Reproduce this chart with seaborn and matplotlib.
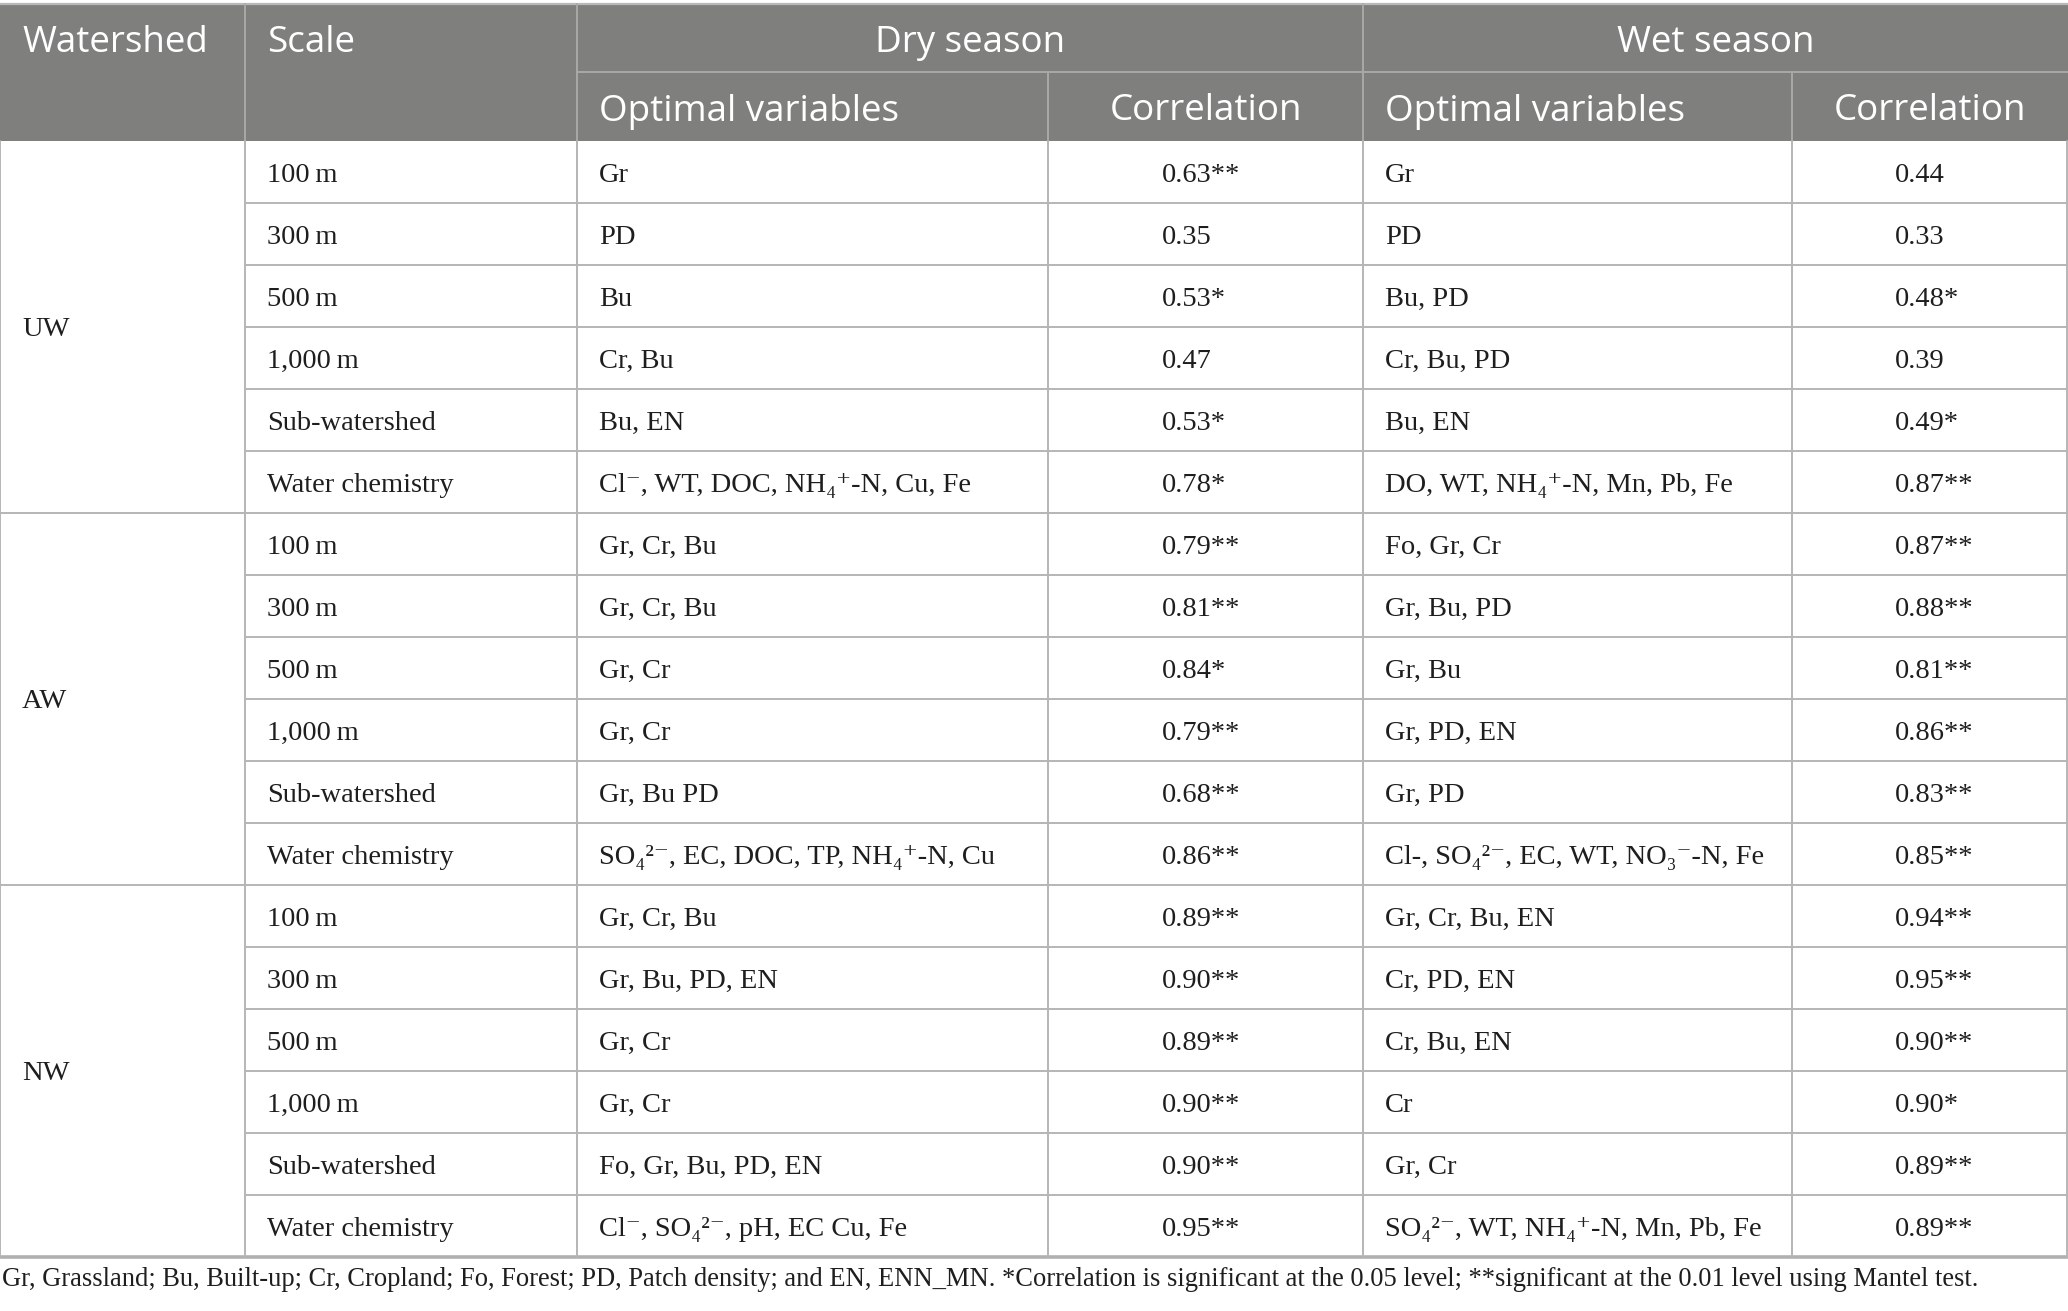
import matplotlib
matplotlib.use("Agg")
import matplotlib.pyplot as plt
import seaborn as sns

# ---------------- data ----------------
watersheds = ["UW", "AW", "NW"]
scales = ["100\u2009m", "300\u2009m", "500\u2009m", "1,000\u2009m", "Sub-watershed", "Water chemistry"]

dry_vars = [
    "Gr", "PD", "Bu", "Cr, Bu", "Bu, EN", "Cl\u207b, WT, DOC, NH\u2084\u207a-N, Cu, Fe",
    "Gr, Cr, Bu", "Gr, Cr, Bu", "Gr, Cr", "Gr, Cr", "Gr, Bu PD",
    "SO\u2084\u00b2\u207b, EC, DOC, TP, NH\u2084\u207a-N, Cu",
    "Gr, Cr, Bu", "Gr, Bu, PD, EN", "Gr, Cr", "Gr, Cr", "Fo, Gr, Bu, PD, EN",
    "Cl\u207b, SO\u2084\u00b2\u207b, pH, EC Cu, Fe",
]
dry_corr = [0.63, 0.35, 0.53, 0.47, 0.53, 0.78,
            0.79, 0.81, 0.84, 0.79, 0.68, 0.86,
            0.89, 0.90, 0.89, 0.90, 0.90, 0.95]
dry_sig = ["**", "", "*", "", "*", "*",
           "**", "**", "*", "**", "**", "**",
           "**", "**", "**", "**", "**", "**"]

wet_vars = [
    "Gr", "PD", "Bu, PD", "Cr, Bu, PD", "Bu, EN", "DO, WT, NH\u2084\u207a-N, Mn, Pb, Fe",
    "Fo, Gr, Cr", "Gr, Bu, PD", "Gr, Bu", "Gr, PD, EN", "Gr, PD",
    "Cl-, SO\u2084\u00b2\u207b, EC, WT, NO\u2083\u207b-N, Fe",
    "Gr, Cr, Bu, EN", "Cr, PD, EN", "Cr, Bu, EN", "Cr", "Gr, Cr",
    "SO\u2084\u00b2\u207b, WT, NH\u2084\u207a-N, Mn, Pb, Fe",
]
wet_corr = [0.44, 0.33, 0.48, 0.39, 0.49, 0.87,
            0.87, 0.88, 0.81, 0.86, 0.83, 0.85,
            0.94, 0.95, 0.90, 0.90, 0.89, 0.89]
wet_sig = ["", "", "*", "", "*", "**",
           "**", "**", "**", "**", "**", "**",
           "**", "**", "**", "*", "**", "**"]

col_headers = ["Watershed", "Scale"]
season_headers = ["Dry season", "Wet season"]
sub_headers = ["Optimal variables", "Correlation"]

footnote = ("Gr, Grassland; Bu, Built-up; Cr, Cropland; Fo, Forest; PD, Patch density; and EN, ENN_MN. "
            "*Correlation is significant at the 0.05 level; **significant at the 0.01 level using Mantel test.")

# ---------------- layout ----------------
W, H = 2068, 1311
sns.set_theme(style="white")
plt.rcParams["font.family"] = ["Liberation Serif", "DejaVu Serif"]

fig = plt.figure(figsize=(W / 100, H / 100), dpi=100)
ax = fig.add_axes([0, 0, 1, 1])
ax.set_xlim(0, W)
ax.set_ylim(H, 0)
ax.axis("off")

xb = [0, 245, 577, 1048, 1363, 1792, W - 1]
y_top, y_mid, y_head = 4, 72, 141
row_h = 62.0
n_rows = len(dry_vars)
y_bot = y_head + n_rows * row_h

head_bg = "#7f807e"
head_line = "#a9aaa8"
body_line = "#b5b5b5"
txt = "#1e1e1e"
sans = ["Open Sans", "DejaVu Sans"]
serif = ["Liberation Serif", "DejaVu Serif"]
hfs = 26.5
bfs = 20.5
pad = 22

# header background
ax.add_patch(plt.Rectangle((0, y_top), W, y_head - y_top, facecolor=head_bg, edgecolor="none", zorder=0))
ax.plot([0, W], [y_top, y_top], color="#b9bab8", lw=1.6, zorder=2)
for x in [xb[1], xb[2], xb[4]]:
    ax.plot([x, x], [y_top, y_head], color=head_line, lw=1.4, zorder=2)
for x in [xb[3], xb[5]]:
    ax.plot([x, x], [y_mid, y_head], color=head_line, lw=1.4, zorder=2)
ax.plot([xb[2], W], [y_mid, y_mid], color=head_line, lw=1.4, zorder=2)

# header text
yc1 = (y_top + y_mid) / 2 + 5
yc2 = (y_mid + y_head) / 2 + 5
hkw = dict(color="white", fontsize=hfs, family=sans, va="center")
ax.text(xb[0] + pad, yc1, col_headers[0], ha="left", **hkw)
ax.text(xb[1] + pad, yc1, col_headers[1], ha="left", **hkw)
ax.text((xb[2] + xb[4]) / 2, yc1, season_headers[0], ha="center", **hkw)
ax.text((xb[4] + W) / 2, yc1, season_headers[1], ha="center", **hkw)
for xl in [xb[2], xb[4]]:
    ax.text(xl + pad, yc2, sub_headers[0], ha="left", **hkw)
for (xl, xr) in [(xb[3], xb[4]), (xb[5], W)]:
    ax.text((xl + xr) / 2, yc2, sub_headers[1], ha="center", **hkw)

# body grid
for i in range(1, n_rows):
    y = y_head + i * row_h
    x0 = 0 if i % len(scales) == 0 else xb[1]
    ax.plot([x0, W], [y, y], color=body_line, lw=1.4, zorder=2)
ax.plot([0, W], [y_bot, y_bot], color="#b0b0b0", lw=2.6, zorder=2)
for x in xb:
    ax.plot([x, x], [y_head, y_bot], color=body_line, lw=1.4, zorder=2)

# body text
bkw = dict(color=txt, fontsize=bfs, family=serif, va="center")
for g, ws in enumerate(watersheds):
    yc = y_head + (g * len(scales) + len(scales) / 2) * row_h + 2
    ax.text(xb[0] + pad, yc, ws, ha="left", **bkw)

for i in range(n_rows):
    yc = y_head + (i + 0.5) * row_h + 3
    ax.text(xb[1] + pad, yc, scales[i % len(scales)], ha="left", **bkw)
    ax.text(xb[2] + pad, yc, dry_vars[i], ha="left", **bkw)
    ax.text(xb[4] + pad, yc, wet_vars[i], ha="left", **bkw)
    ax.text((xb[3] + xb[4]) / 2 - 44, yc, f"{dry_corr[i]:.2f}{dry_sig[i]}", ha="left", **bkw)
    ax.text((xb[5] + W) / 2 - 35, yc, f"{wet_corr[i]:.2f}{wet_sig[i]}", ha="left", **bkw)

ax.text(2, y_bot + 23, footnote, color=txt, fontsize=19.1, family=serif, va="center", ha="left")

fig.savefig("out.png", dpi=100, facecolor="white")
